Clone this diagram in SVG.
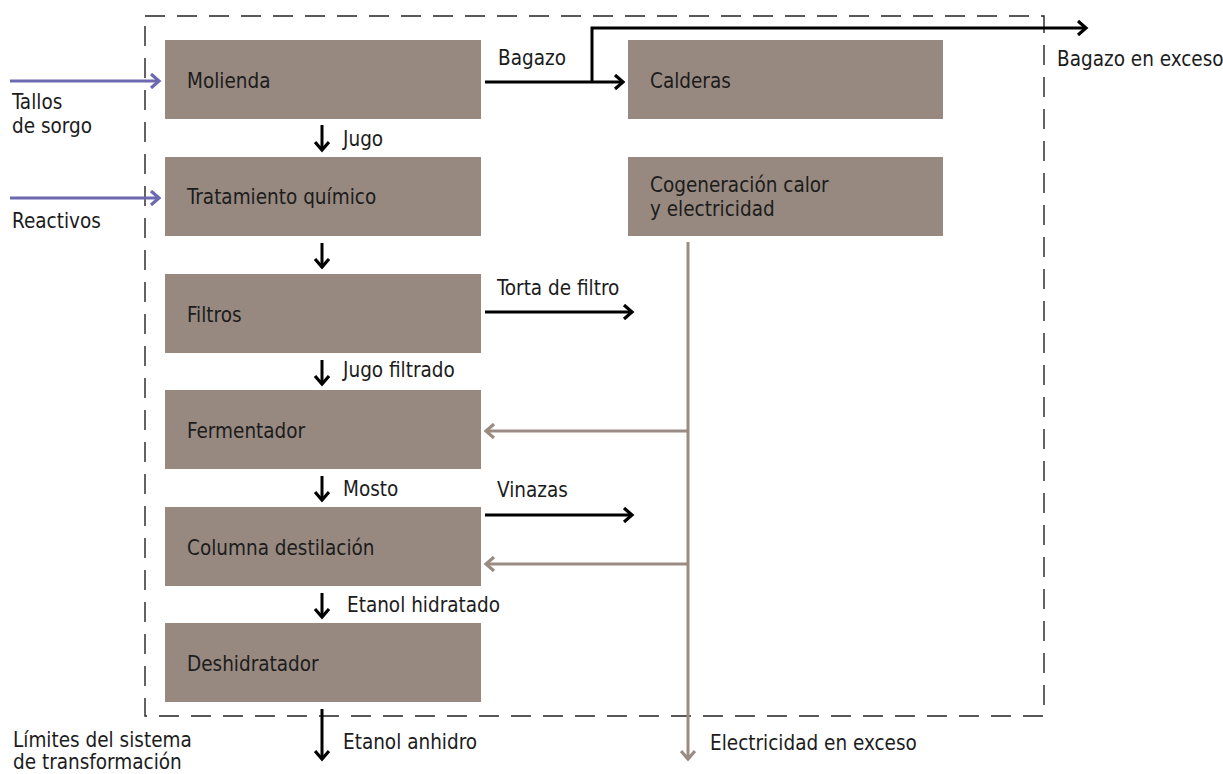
<svg xmlns="http://www.w3.org/2000/svg" width="1223" height="774" viewBox="0 0 1223 774">
  <style>
    text { font-family: "DejaVu Sans Condensed", "DejaVu Sans", "Liberation Sans", sans-serif; font-stretch: condensed; font-size: 20.5px; fill: #1c1c1c; }
    .box { fill: #978980; }
    .blk { stroke: #000; stroke-width: 3; fill: none; }
    .gry { stroke: #9a8b83; stroke-width: 3; fill: none; }
    .pur { stroke: #6d69b0; stroke-width: 3; fill: none; }
    .limit { stroke: #222; stroke-width: 1.4; fill: none; stroke-dasharray: 20 12; }
  </style>
  <defs>
    <marker id="hb" markerUnits="userSpaceOnUse" markerWidth="16" markerHeight="16" viewBox="-12 -8 14 16" refX="0" refY="0" orient="auto">
      <polyline points="-8,-7 0,0 -8,7" fill="none" stroke="#000" stroke-width="3.2"/>
    </marker>
    <marker id="hg" markerUnits="userSpaceOnUse" markerWidth="16" markerHeight="16" viewBox="-12 -8 14 16" refX="0" refY="0" orient="auto">
      <polyline points="-8,-7 0,0 -8,7" fill="none" stroke="#9a8b83" stroke-width="3.2"/>
    </marker>
    <marker id="hp" markerUnits="userSpaceOnUse" markerWidth="16" markerHeight="16" viewBox="-12 -8 14 16" refX="0" refY="0" orient="auto">
      <polyline points="-8,-7 0,0 -8,7" fill="none" stroke="#6d69b0" stroke-width="3.2"/>
    </marker>
  </defs>

  <!-- system boundary -->
  <rect id="boundary" class="limit" x="145" y="16" width="899" height="700"/>

  <g id="molienda"><rect class="box" x="165" y="40" width="316" height="79"/><text x="187" y="88">Molienda</text></g>
  <g id="tratamiento"><rect class="box" x="165" y="157" width="316" height="79"/><text x="187" y="204">Tratamiento químico</text></g>
  <g id="filtros"><rect class="box" x="165" y="274" width="316" height="79"/><text x="187" y="322">Filtros</text></g>
  <g id="fermentador"><rect class="box" x="165" y="390" width="316" height="79"/><text x="187" y="438">Fermentador</text></g>
  <g id="columna"><rect class="box" x="165" y="507" width="316" height="79"/><text x="187" y="555">Columna destilación</text></g>
  <g id="deshidratador"><rect class="box" x="165" y="623" width="316" height="79"/><text x="187" y="671">Deshidratador</text></g>
  <g id="calderas"><rect class="box" x="628" y="40" width="315" height="79"/><text x="650" y="88">Calderas</text></g>
  <g id="cogeneracion"><rect class="box" x="628" y="157" width="315" height="79"/><text x="650" y="192">Cogeneración calor</text><text x="650" y="216">y electricidad</text></g>

  <g id="connectors">
    <!-- inputs -->
    <line class="pur" x1="10" y1="81" x2="159" y2="81" marker-end="url(#hp)"/>
    <line class="pur" x1="10" y1="198" x2="159" y2="198" marker-end="url(#hp)"/>
    <!-- bagasse -->
    <line class="blk" x1="485" y1="82" x2="623" y2="82" marker-end="url(#hb)"/>
    <polyline class="blk" points="592,82 592,28 1086,28" marker-end="url(#hb)"/>
    <!-- main line -->
    <line class="blk" x1="322" y1="125" x2="322" y2="150" marker-end="url(#hb)"/>
    <line class="blk" x1="322" y1="243" x2="322" y2="267" marker-end="url(#hb)"/>
    <line class="blk" x1="322" y1="360" x2="322" y2="384" marker-end="url(#hb)"/>
    <line class="blk" x1="322" y1="476" x2="322" y2="500" marker-end="url(#hb)"/>
    <line class="blk" x1="322" y1="593" x2="322" y2="617" marker-end="url(#hb)"/>
    <line class="blk" x1="322" y1="709" x2="322" y2="759" marker-end="url(#hb)"/>
    <!-- by-products -->
    <line class="blk" x1="485" y1="312" x2="632" y2="312" marker-end="url(#hb)"/>
    <line class="blk" x1="485" y1="515" x2="632" y2="515" marker-end="url(#hb)"/>
    <!-- electricity -->
    <line class="gry" x1="688" y1="242" x2="688" y2="759" marker-end="url(#hg)"/>
    <line class="gry" x1="688" y1="431" x2="486" y2="431" marker-end="url(#hg)"/>
    <line class="gry" x1="688" y1="564" x2="486" y2="564" marker-end="url(#hg)"/>
  </g>

  <g id="labels">
    <text x="12" y="109">Tallos</text>
    <text x="12" y="133">de sorgo</text>
    <text x="12" y="228">Reactivos</text>
    <text x="498" y="65">Bagazo</text>
    <text x="1057" y="66">Bagazo en exceso</text>
    <text x="343" y="146">Jugo</text>
    <text x="497" y="295">Torta de filtro</text>
    <text x="343" y="377">Jugo filtrado</text>
    <text x="343" y="496">Mosto</text>
    <text x="497" y="497">Vinazas</text>
    <text x="347" y="612">Etanol hidratado</text>
    <text x="13" y="747">Límites del sistema</text>
    <text x="13" y="769">de transformación</text>
    <text x="343" y="749">Etanol anhidro</text>
    <text x="710" y="750">Electricidad en exceso</text>
  </g>
</svg>
